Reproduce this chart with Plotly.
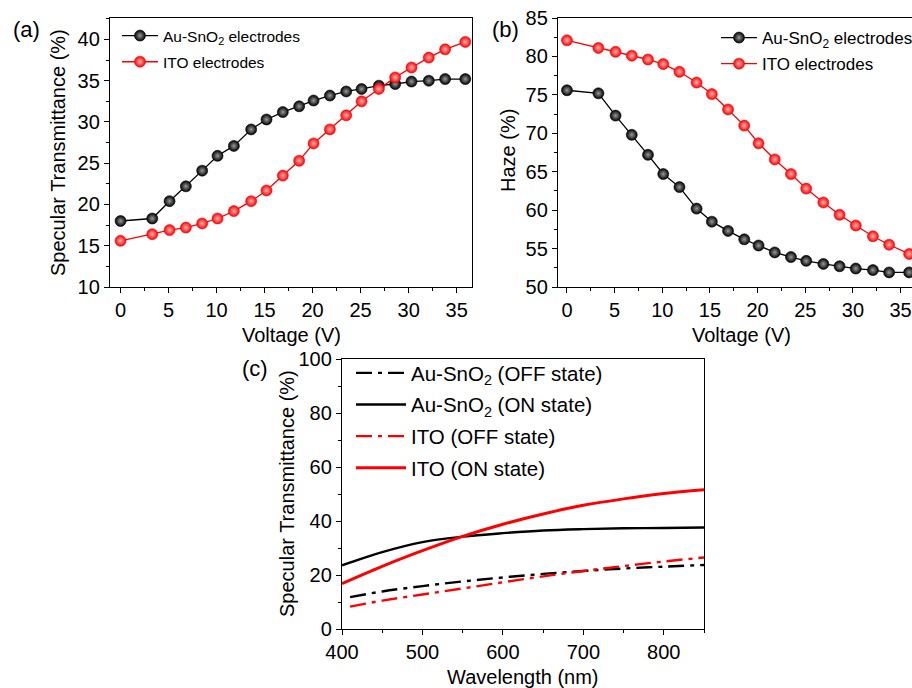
import plotly.graph_objects as go

# ---- data -------------------------------------------------------------
voltage = [0, 3.3, 5.1, 6.8, 8.5, 10.1, 11.8, 13.6, 15.2, 16.9, 18.6,
           20.1, 21.8, 23.5, 25.1, 26.9, 28.6, 30.3, 32.1, 33.8, 35.9]

# (a) specular transmittance vs voltage (%)
spec_au = [18.0, 18.3, 20.4, 22.2, 24.1, 25.9, 27.1, 29.1, 30.3, 31.2, 31.9,
           32.6, 33.2, 33.7, 34.0, 34.4, 34.6, 34.9, 35.0, 35.2, 35.2]
spec_ito = [15.6, 16.4, 16.9, 17.2, 17.7, 18.3, 19.2, 20.4, 21.7, 23.5, 25.3,
            27.4, 29.1, 30.8, 32.5, 34.0, 35.4, 36.6, 37.8, 38.8, 39.7]

# (b) haze vs voltage (%)
haze_au = [75.6, 75.2, 72.3, 69.8, 67.2, 64.7, 63.0, 60.2, 58.5, 57.3, 56.2,
           55.4, 54.5, 53.9, 53.4, 53.0, 52.7, 52.4, 52.2, 51.9, 51.9]
haze_ito = [82.1, 81.1, 80.6, 80.1, 79.6, 79.0, 78.0, 76.6, 75.1, 73.1, 71.0,
            68.7, 66.6, 64.7, 62.8, 61.0, 59.4, 58.0, 56.6, 55.5, 54.3]

# (c) specular transmittance spectra (%)
wl_on = [400, 450, 500, 550, 600, 650, 700, 750, 800, 850]
wl_off = [410, 450, 500, 550, 600, 650, 700, 750, 800, 850]
au_off = [11.8, 13.9, 15.9, 17.6, 19.1, 20.4, 21.5, 22.4, 23.1, 23.7]
au_on = [23.6, 28.5, 32.2, 34.2, 35.5, 36.5, 37.0, 37.3, 37.4, 37.6]
ito_off = [8.3, 10.5, 12.8, 15.0, 17.3, 19.5, 21.5, 23.3, 25.0, 26.5]
ito_on = [16.8, 23.2, 29.0, 34.3, 38.8, 42.6, 45.8, 48.2, 50.2, 51.6]

W, H = 912, 688
FONT = "Liberation Sans, Arial, sans-serif"
RED = "#ff0000"


def px_x(p):
    return p / W


def px_y(p):
    return 1 - p / H


def ball(color, center):
    return dict(size=11, color=color, symbol="circle",
                gradient=dict(type="radial", color=center),
                line=dict(width=0.6, color=color))


fig = go.Figure()

# panel (a)
fig.add_trace(go.Scatter(x=voltage, y=spec_au, mode="lines+markers",
                         name="Au-SnO<sub>2</sub> electrodes", legend="legend",
                         legendgroup="a1",
                         line=dict(color="black", width=1.3),
                         marker=ball("black", "#9a9a9a"),
                         xaxis="x", yaxis="y"))
fig.add_trace(go.Scatter(x=voltage, y=spec_ito, mode="lines+markers",
                         name="ITO electrodes", legend="legend", legendgroup="a2",
                         line=dict(color=RED, width=1.3),
                         marker=ball(RED, "#ffb4b4"),
                         xaxis="x", yaxis="y"))

# panel (b)
fig.add_trace(go.Scatter(x=voltage, y=haze_au, mode="lines+markers",
                         name="Au-SnO<sub>2</sub> electrodes", legend="legend2",
                         legendgroup="b1",
                         line=dict(color="black", width=1.3),
                         marker=ball("black", "#9a9a9a"),
                         xaxis="x2", yaxis="y2"))
fig.add_trace(go.Scatter(x=voltage, y=haze_ito, mode="lines+markers",
                         name="ITO electrodes", legend="legend2", legendgroup="b2",
                         line=dict(color=RED, width=1.3),
                         marker=ball(RED, "#ffb4b4"),
                         xaxis="x2", yaxis="y2"))

# panel (c)
DASHDOT = "16px,6px,4px,6px"
fig.add_trace(go.Scatter(x=wl_off, y=au_off, mode="lines", line_shape="spline",
                         name="Au-SnO<sub>2</sub> (OFF state)", legend="legend3",
                         legendgroup="c1",
                         line=dict(color="black", width=2.4, dash=DASHDOT),
                         xaxis="x3", yaxis="y3"))
fig.add_trace(go.Scatter(x=wl_on, y=au_on, mode="lines", line_shape="spline",
                         name="Au-SnO<sub>2</sub> (ON state)", legend="legend3",
                         legendgroup="c2",
                         line=dict(color="black", width=2.4),
                         xaxis="x3", yaxis="y3"))
fig.add_trace(go.Scatter(x=wl_off, y=ito_off, mode="lines", line_shape="spline",
                         name="ITO (OFF state)", legend="legend3", legendgroup="c3",
                         line=dict(color=RED, width=2.4, dash=DASHDOT),
                         xaxis="x3", yaxis="y3"))
fig.add_trace(go.Scatter(x=wl_on, y=ito_on, mode="lines", line_shape="spline",
                         name="ITO (ON state)", legend="legend3", legendgroup="c4",
                         line=dict(color=RED, width=3),
                         xaxis="x3", yaxis="y3"))

axis_common = dict(showline=True, linecolor="black", linewidth=1.3,
                   ticks="outside", ticklen=5, tickwidth=1.3, tickcolor="black",
                   showgrid=False, zeroline=False, automargin=False,
                   tickfont=dict(family=FONT, size=20, color="black"))


def minor(step):
    return dict(ticks="outside", ticklen=3, tickwidth=1.1, tickcolor="black",
                dtick=step, showgrid=False)


dom_a = [px_x(110), px_x(472)]
dom_b = [px_x(558), 1.0]
dom_c = [px_x(342), px_x(704)]
dom_ab_y = [px_y(287), px_y(18)]
dom_c_y = [px_y(629), px_y(359)]

legend_common = dict(bgcolor="rgba(0,0,0,0)", borderwidth=0,
                     xanchor="left", yanchor="top",
                     traceorder="grouped", itemclick=False)

fig.update_layout(
    width=W, height=H,
    margin=dict(l=0, r=0, t=0, b=0, pad=0, autoexpand=False),
    paper_bgcolor="white", plot_bgcolor="white",
    font=dict(family=FONT, color="black"),
    xaxis=dict(domain=dom_a, anchor="y", range=[-1.1, 36.6], mirror=True,
               tickvals=[0, 5, 10, 15, 20, 25, 30, 35], minor=minor(2.5),
               **axis_common),
    yaxis=dict(domain=dom_ab_y, anchor="x", range=[10, 42.6], mirror=True,
               tickvals=[10, 15, 20, 25, 30, 35, 40], minor=minor(2.5),
               **axis_common),
    xaxis2=dict(domain=dom_b, anchor="y2", range=[-0.94, 36.2], mirror=True,
                tickvals=[0, 5, 10, 15, 20, 25, 30, 35], minor=minor(2.5),
                **axis_common),
    yaxis2=dict(domain=dom_ab_y, anchor="x2", range=[50, 85], mirror=False,
                tickvals=[50, 55, 60, 65, 70, 75, 80, 85], minor=minor(2.5),
                **axis_common),
    xaxis3=dict(domain=dom_c, anchor="y3", range=[400, 850], mirror=True,
                tickvals=[400, 500, 600, 700, 800], minor=minor(50),
                **axis_common),
    yaxis3=dict(domain=dom_c_y, anchor="x3", range=[0, 100], mirror=True,
                tickvals=[0, 20, 40, 60, 80, 100], minor=minor(10),
                **axis_common),
    legend=dict(x=px_x(117), y=px_y(19), font=dict(family=FONT, size=15.5),
                tracegroupgap=3, itemwidth=36, **legend_common),
    legend2=dict(x=px_x(716), y=px_y(20), font=dict(family=FONT, size=17),
                 tracegroupgap=1, itemwidth=36, **legend_common),
    legend3=dict(x=px_x(351), y=px_y(353), font=dict(family=FONT, size=20.5),
                 tracegroupgap=2, itemwidth=50, **legend_common),
    showlegend=True,
)

# axis titles and panel labels
labels = [
    dict(text="Voltage (V)", x=px_x(291), y=px_y(335), textangle=0),
    dict(text="Specular Transmittance (%)", x=px_x(58), y=px_y(153), textangle=-90),
    dict(text="Voltage (V)", x=px_x(741), y=px_y(335), textangle=0),
    dict(text="Haze (%)", x=px_x(508), y=px_y(150), textangle=-90),
    dict(text="Wavelength (nm)", x=px_x(523), y=px_y(677), textangle=0),
    dict(text="Specular Transmittance (%)", x=px_x(287), y=px_y(494), textangle=-90),
]
for lab in labels:
    fig.add_annotation(xref="paper", yref="paper", showarrow=False,
                       xanchor="center", yanchor="middle",
                       font=dict(family=FONT, size=20, color="black"), **lab)

for txt, x, y in [("(a)", 26, 30), ("(b)", 505, 30), ("(c)", 255, 369)]:
    fig.add_annotation(xref="paper", yref="paper", showarrow=False,
                       x=px_x(x), y=px_y(y), xanchor="center", yanchor="middle",
                       text=txt, font=dict(family=FONT, size=22, color="black"))

fig.write_html("out.html")
